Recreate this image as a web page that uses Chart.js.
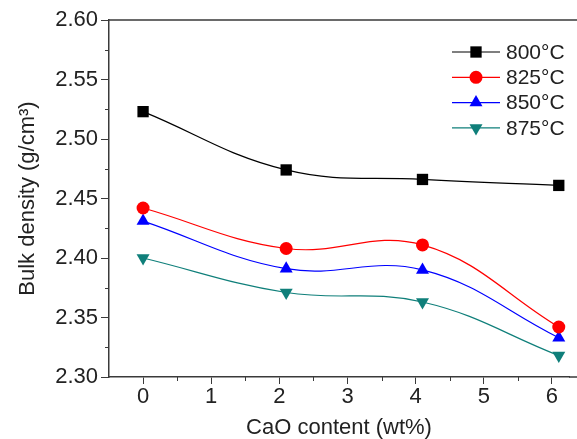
<!DOCTYPE html>
<html>
<head>
<meta charset="utf-8">
<script src="https://cdn.jsdelivr.net/npm/chart.js@4/dist/chart.umd.min.js"></script>
<style>
  html, body { margin: 0; padding: 0; background: #fff; }
  #wrap { width: 577px; height: 439px; }
</style>
</head>
<body>
<div id="wrap"><canvas id="chart"></canvas></div>
<script>
// CaO content (wt%) and bulk density (g/cm3) per sintering temperature
const cao = [0, 2.1, 4.1, 6.1];
const t800 = [2.523, 2.474, 2.466, 2.461];
const t825 = [2.442, 2.408, 2.411, 2.342];
const t850 = [2.431, 2.391, 2.390, 2.333];
const t875 = [2.400, 2.371, 2.363, 2.318];
const seriesNames = ['800°C', '825°C', '850°C', '875°C'];

const xTicks = [0, 1, 2, 3, 4, 5, 6];
const xMinor = [0.5, 1.5, 2.5, 3.5, 4.5, 5.5];
const yTicks = [2.30, 2.35, 2.40, 2.45, 2.50, 2.55, 2.60];
const yMinor = [2.325, 2.375, 2.425, 2.475, 2.525, 2.575];

const axisColor = '#3a3a3a';
const textColor = '#222';
const FONT = 'Liberation Sans, Arial, sans-serif';

function pts(ys) {
    return cao.map((x, i) => ({ x: x, y: ys[i] }));
}

function makeSet(label, ys, color, style, radius, rot) {
    return {
        label: label,
        data: pts(ys),
        showLine: true,
        borderColor: color,
        borderWidth: 1.2,
        backgroundColor: color,
        pointBackgroundColor: color,
        pointBorderWidth: 0,
        pointStyle: style,
        pointRadius: radius,
        pointHoverRadius: radius,
        pointRotation: rot,
        tension: 0.4,
        clip: false
    };
}

// minor ticks, top frame and the line+marker legend
const extras = {
    id: 'extras',
    afterDraw(chart) {
        const ctx = chart.ctx;
        const area = chart.chartArea;
        const xs = chart.scales.x, ys = chart.scales.y;
        ctx.save();
        ctx.strokeStyle = axisColor;
        ctx.lineWidth = 1;
        ctx.beginPath();
        xMinor.forEach(v => {
            const px = Math.round(xs.getPixelForValue(v)) + 0.5;
            ctx.moveTo(px, area.bottom);
            ctx.lineTo(px, area.bottom + 4);
        });
        yMinor.forEach(v => {
            const py = Math.round(ys.getPixelForValue(v)) + 0.5;
            ctx.moveTo(area.left, py);
            ctx.lineTo(area.left - 4, py);
        });
        ctx.stroke();

        // top frame and bottom axis run off the right edge, as in the source
        ctx.lineWidth = 1.5;
        ctx.beginPath();
        ctx.moveTo(area.left, area.top);
        ctx.lineTo(chart.width, area.top);
        ctx.moveTo(area.right, area.bottom);
        ctx.lineTo(chart.width, area.bottom);
        ctx.stroke();

        // legend
        const x0 = chart.width - 125;
        chart.data.datasets.forEach((ds, i) => {
            const y = area.top + 32 + i * 25.3;
            ctx.strokeStyle = ds.borderColor;
            ctx.lineWidth = 1.2;
            ctx.beginPath();
            ctx.moveTo(x0, y);
            ctx.lineTo(x0 + 48, y);
            ctx.stroke();
            ctx.fillStyle = ds.pointBackgroundColor;
            Chart.helpers.drawPoint(ctx, {
                pointStyle: ds.pointStyle,
                radius: ds.pointRadius,
                rotation: ds.pointRotation,
                borderWidth: 0
            }, x0 + 24, y);
            ctx.fillStyle = textColor;
            ctx.font = '21px ' + FONT;
            ctx.textBaseline = 'middle';
            ctx.textAlign = 'left';
            ctx.fillText(ds.label, x0 + 54, y + 1);
        });
        ctx.restore();
    }
};

new Chart(document.getElementById('chart'), {
    type: 'scatter',
    data: {
        datasets: [
            makeSet(seriesNames[0], t800, '#000000', 'rect', 8, 0),
            makeSet(seriesNames[1], t825, '#ff0000', 'circle', 6.5, 0),
            makeSet(seriesNames[2], t850, '#0000ff', 'triangle', 7.5, 0),
            makeSet(seriesNames[3], t875, '#0f7f7a', 'triangle', 7.5, 180)
        ]
    },
    options: {
        responsive: true,
        maintainAspectRatio: false,
        animation: false,
        events: [],
        layout: { padding: { top: 20, right: 0, left: 0, bottom: 0 } },
        plugins: { legend: { display: false }, tooltip: { enabled: false } },
        scales: {
            x: {
                type: 'linear',
                min: -0.5,
                max: 6.25,
                afterBuildTicks: s => { s.ticks = xTicks.map(v => ({ value: v })); },
                afterFit: s => { s.height = 62; },
                ticks: {
                    color: textColor,
                    font: { family: FONT, size: 22 },
                    padding: 0,
                    callback: v => String(v)
                },
                grid: { drawOnChartArea: false, color: axisColor, tickLength: 7, tickWidth: 1 },
                border: { color: axisColor, width: 1.5 },
                title: {
                    display: true,
                    text: 'CaO content (wt%)',
                    color: textColor,
                    font: { family: FONT, size: 22, lineHeight: 1 },
                    padding: { top: 0, bottom: 0 }
                }
            },
            y: {
                min: 2.30,
                max: 2.60,
                afterBuildTicks: s => { s.ticks = yTicks.map(v => ({ value: v })); },
                afterFit: s => { s.width = 109; },
                ticks: {
                    color: textColor,
                    font: { family: FONT, size: 22 },
                    padding: 3,
                    callback: v => Number(v).toFixed(2)
                },
                grid: { drawOnChartArea: false, color: axisColor, tickLength: 8, tickWidth: 1 },
                border: { color: axisColor, width: 1.5 },
                title: {
                    display: true,
                    text: 'Bulk density (g/cm³)',
                    color: textColor,
                    font: { family: FONT, size: 22, lineHeight: 1 },
                    padding: { top: 17, bottom: 0 }
                }
            }
        }
    },
    plugins: [extras]
});
</script>
</body>
</html>
